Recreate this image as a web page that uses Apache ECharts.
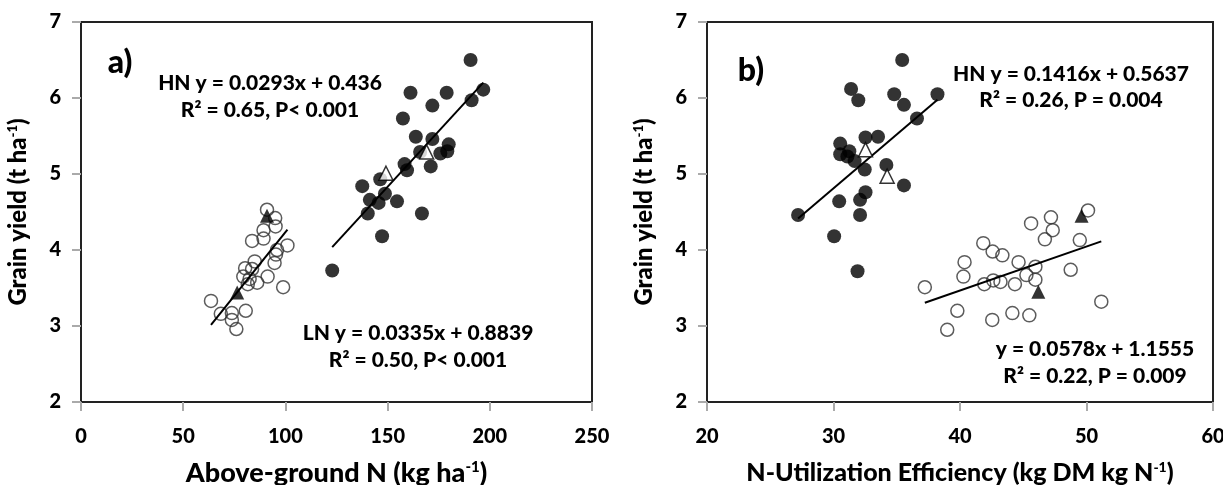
<!DOCTYPE html>
<html>
<head>
<meta charset="utf-8">
<script src="https://cdn.jsdelivr.net/npm/echarts@6/dist/echarts.min.js"></script>
<style>
  html, body { margin: 0; padding: 0; background: #fff; }
  #chart { width: 1223px; height: 485px; }
</style>
</head>
<body>
<div id="chart"></div>
<script>
// panel a: above-ground N (kg/ha) vs grain yield (t/ha)
const hnA = [
  [190.6, 6.50], [196.8, 6.11], [191.1, 5.97], [161.2, 6.07], [178.9, 6.07],
  [171.9, 5.90], [157.5, 5.73], [163.8, 5.49], [171.9, 5.46], [179.9, 5.39],
  [165.9, 5.29], [175.8, 5.27], [179.2, 5.30], [171.1, 5.10], [158.3, 5.13],
  [159.5, 5.05], [146.4, 4.93], [137.6, 4.84], [148.7, 4.74], [141.3, 4.66],
  [145.6, 4.62], [154.6, 4.64], [140.3, 4.48], [166.8, 4.48], [147.3, 4.18],
  [122.9, 3.73]
];
const hnAMean = [[149.2, 5.01], [169.1, 5.29]];
const lnA = [
  [91.0, 4.53], [95.0, 4.42], [95.2, 4.31], [89.3, 4.26], [83.7, 4.12],
  [89.3, 4.15], [101.0, 4.06], [95.4, 3.94], [94.7, 3.83], [85.0, 3.85],
  [80.3, 3.76], [83.7, 3.75], [79.4, 3.65], [82.5, 3.62], [86.2, 3.57],
  [91.3, 3.65], [81.6, 3.55], [98.9, 3.51], [63.6, 3.33], [68.4, 3.16],
  [73.8, 3.17], [80.6, 3.20], [73.8, 3.08], [76.0, 2.96], [95.9, 4.00]
];
const lnAMean = [[91.0, 4.45], [76.4, 3.44]];

// panel b: N-utilization efficiency vs grain yield
const hnB = [
  [35.43, 6.50], [31.39, 6.12], [31.96, 5.97], [34.80, 6.05], [35.57, 5.91],
  [38.22, 6.05], [36.60, 5.73], [30.53, 5.40], [30.53, 5.26], [31.25, 5.30],
  [32.53, 5.48], [33.52, 5.49], [31.67, 5.17], [32.47, 5.06], [34.18, 5.12],
  [35.57, 4.85], [32.53, 4.76], [32.10, 4.66], [30.45, 4.64], [32.10, 4.46],
  [27.20, 4.46], [30.05, 4.18], [31.90, 3.72], [31.10, 5.23]
];
const hnBMean = [[32.53, 5.32], [34.24, 4.97]];
const lnB = [
  [50.12, 4.52], [49.47, 4.13], [47.19, 4.43], [47.33, 4.26], [46.71, 4.14],
  [45.62, 4.35], [41.84, 4.09], [42.58, 3.98], [43.35, 3.93], [40.36, 3.84],
  [44.63, 3.84], [45.96, 3.78], [48.75, 3.74], [40.27, 3.65], [45.25, 3.67],
  [45.96, 3.61], [41.92, 3.55], [42.63, 3.60], [43.20, 3.58], [44.34, 3.55],
  [37.22, 3.51], [39.79, 3.20], [38.99, 2.95], [42.55, 3.08], [44.14, 3.17],
  [45.48, 3.14], [51.17, 3.32]
];
const lnBMean = [[49.61, 4.45], [46.19, 3.45]];

// regression fits [slope, intercept]
const fitHnA = [0.0293, 0.436];
const fitLnA = [0.0335, 0.8839];
const fitHnB = [0.1416, 0.5637];
const fitLnB = [0.0578, 1.1555];

const xRangeA = [0, 250, 50];
const xRangeB = [20, 60, 10];
const yRange = [2, 7, 1];

const FONT = 'Lato';
const W = 900;

function fitLine(pts, fit) {
  const xs = pts.map(p => p[0]);
  const x0 = Math.min(...xs), x1 = Math.max(...xs);
  return [[x0, fit[0] * x0 + fit[1]], [x1, fit[0] * x1 + fit[1]]];
}

const chart = echarts.init(document.getElementById('chart'));

const axisLine = { show: true, onZero: false, lineStyle: { color: '#222', width: 2 } };
const axisTick = { show: true, length: 9, lineStyle: { color: '#aaa', width: 2 } };
const tickLabel = { color: '#000', fontFamily: FONT, fontWeight: W, fontSize: 20 };

function nameStyle(size) {
  return {
    color: '#000', fontFamily: FONT, fontWeight: W, fontSize: size,
    rich: { sup: { fontFamily: FONT, fontWeight: W, fontSize: Math.round(size * 0.55), verticalAlign: 'top', color: '#000' } }
  };
}

function xAxis(idx, r, name, size) {
  return {
    type: 'value', gridIndex: idx, min: r[0], max: r[1], interval: r[2],
    axisLine: axisLine, axisTick: axisTick, splitLine: { show: false },
    axisLabel: Object.assign({}, tickLabel, { margin: 25 }),
    name: name, nameLocation: 'middle', nameGap: 58, nameTextStyle: nameStyle(size)
  };
}
function yAxis(idx) {
  return {
    type: 'value', gridIndex: idx, min: yRange[0], max: yRange[1], interval: yRange[2],
    axisLine: axisLine, axisTick: axisTick, splitLine: { show: false },
    axisLabel: Object.assign({}, tickLabel, { margin: 20 }),
    name: 'Grain yield (t ha{sup|-1})', nameLocation: 'middle', nameGap: 51, nameTextStyle: nameStyle(24)
  };
}

function filled(pts, xi) {
  return { type: 'scatter', xAxisIndex: xi, yAxisIndex: xi, data: pts, symbol: 'circle', symbolSize: 14,
    itemStyle: { color: '#000' }, z: 3 };
}
function hollow(pts, xi) {
  return { type: 'scatter', xAxisIndex: xi, yAxisIndex: xi, data: pts, symbol: 'circle', symbolSize: 13,
    itemStyle: { color: 'rgba(0,0,0,0)', borderColor: '#333', borderWidth: 1.5 }, z: 3 };
}
function tri(pts, xi, open) {
  return { type: 'scatter', xAxisIndex: xi, yAxisIndex: xi, data: pts, symbol: 'triangle', symbolSize: 14,
    itemStyle: open ? { color: '#fff', borderColor: '#000', borderWidth: 1.5 } : { color: '#000' }, z: 5 };
}
function line(pts, fit, xi) {
  return { type: 'line', xAxisIndex: xi, yAxisIndex: xi, data: fitLine(pts, fit), showSymbol: false,
    lineStyle: { color: '#000', width: 2 }, z: 4, silent: true };
}

function txt(x, y, s, size) {
  return { type: 'text', x: x, y: y, style: { text: s, fill: '#000', font: W + ' ' + (size || 21) + 'px ' + FONT,
    textAlign: 'center', textVerticalAlign: 'middle' } };
}

chart.setOption({
  animation: false,
  backgroundColor: '#fff',
  grid: [
    { left: 81, top: 22, width: 511, height: 380, show: true, borderColor: '#222', borderWidth: 2, outerBoundsMode: 'none' },
    { left: 707, top: 22, width: 506, height: 380, show: true, borderColor: '#222', borderWidth: 2, outerBoundsMode: 'none' }
  ],
  xAxis: [
    xAxis(0, xRangeA, 'Above-ground N (kg ha{sup|-1})', 27),
    xAxis(1, xRangeB, 'N-Utilization Efficiency (kg DM kg N{sup|-1})', 25)
  ],
  yAxis: [yAxis(0), yAxis(1)],
  series: [
    filled(hnA, 0), hollow(lnA, 0), tri(hnAMean, 0, true), tri(lnAMean, 0, false),
    line(hnA, fitHnA, 0), line(lnA, fitLnA, 0),
    filled(hnB, 1), hollow(lnB, 1), tri(hnBMean, 1, true), tri(lnBMean, 1, false),
    line(hnB, fitHnB, 1), line(lnB, fitLnB, 1)
  ],
  graphic: [
    txt(120, 63, 'a)', 32),
    txt(270, 83, 'HN y = 0.0293x + 0.436'),
    txt(270, 110, 'R² = 0.65, P< 0.001'),
    txt(418, 333, 'LN y = 0.0335x + 0.8839'),
    txt(418, 360, 'R² = 0.50, P< 0.001'),
    txt(751, 71, 'b)', 32),
    txt(1071, 74, 'HN y = 0.1416x + 0.5637'),
    txt(1071, 100, 'R² = 0.26, P = 0.004'),
    txt(1095, 349, 'y = 0.0578x + 1.1555'),
    txt(1095, 376, 'R² = 0.22, P = 0.009')
  ]
});
</script>
</body>
</html>
